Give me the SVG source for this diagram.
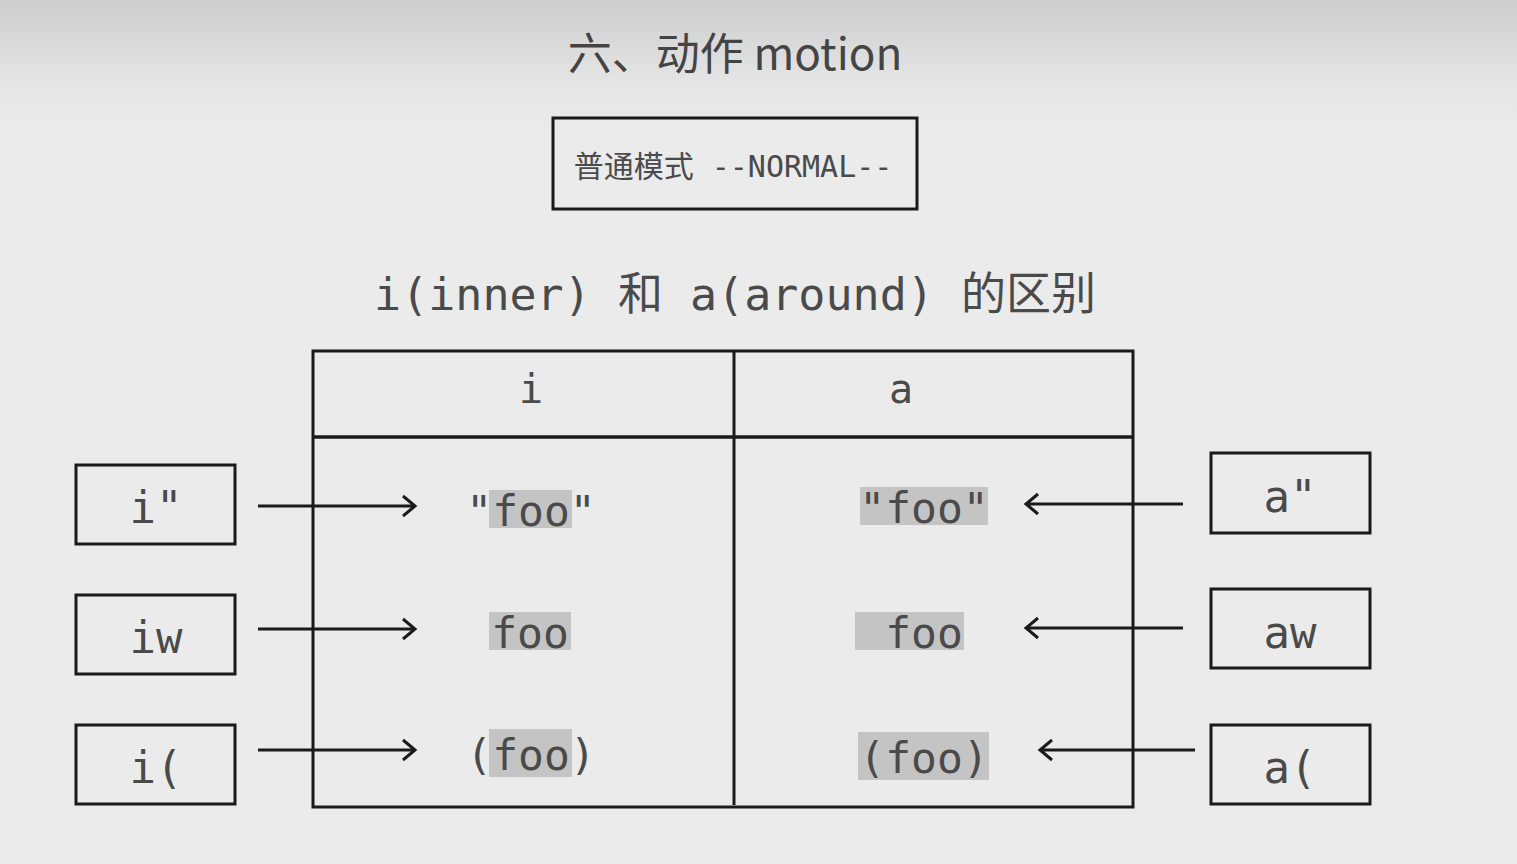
<svg xmlns="http://www.w3.org/2000/svg" width="1517" height="864" viewBox="0 0 1517 864">
  <defs>
    <linearGradient id="bg" x1="0" y1="0" x2="0" y2="1">
      <stop offset="0" stop-color="#cdcdcd"/>
      <stop offset="0.1" stop-color="#e6e6e6"/>
      <stop offset="0.16" stop-color="#ebebeb"/>
      <stop offset="1" stop-color="#ebebeb"/>
    </linearGradient>
    <marker id="chev" markerWidth="20" markerHeight="26" refX="16" refY="13" orient="auto" markerUnits="userSpaceOnUse">
      <path d="M4,3 L16,13 L4,23" fill="none" stroke="#1a1a1a" stroke-width="3" stroke-linejoin="miter"/>
    </marker>
    <style>
      .box { fill: none; stroke: #1a1a1a; stroke-width: 3; }
      .mono { font-family: "DejaVu Sans Mono", "Liberation Mono", "Noto Sans CJK SC", monospace; fill: #4a4a4a; }
      .sans { font-family: "Noto Sans CJK SC", "Noto Sans", sans-serif; fill: #444444; }
      .lbl { font-size: 44px; text-anchor: middle; }
      .cell { font-size: 43px; text-anchor: middle; }
      .hl { fill: #c4c4c4; }
      .conn { stroke: #1a1a1a; stroke-width: 3; fill: none; marker-end: url(#chev); }
    </style>
  </defs>

  <rect x="0" y="0" width="1517" height="864" fill="url(#bg)"/>

  <g id="title">
    <text x="735" y="70" class="sans" font-size="44" text-anchor="middle">六、动作 motion</text>
  </g>

  <g id="mode">
    <rect x="553" y="118" width="364" height="91" class="box"/>
    <text x="733" y="177" class="mono" font-size="30" text-anchor="middle"><tspan font-family="Noto Sans CJK SC, sans-serif">普通模式</tspan> --NORMAL--</text>
  </g>

  <g id="subtitle">
    <text x="735" y="310" class="mono" font-size="45" text-anchor="middle">i(inner) 和 a(around) 的区别</text>
  </g>

  <g id="table">
    <rect x="313" y="351" width="820" height="456" class="box"/>
    <line x1="313" y1="437" x2="1133" y2="437" stroke="#1a1a1a" stroke-width="3.5"/>
    <line x1="734" y1="351" x2="734" y2="805" stroke="#1a1a1a" stroke-width="3"/>
    <text x="531" y="403" class="mono" font-size="40" text-anchor="middle">i</text>
    <text x="901" y="403" class="mono" font-size="40" text-anchor="middle">a</text>
  </g>

  <g id="cell-i-quote">
    <rect x="489" y="490" width="83" height="38" class="hl"/>
    <text x="531" y="526" class="mono cell">"foo"</text>
  </g>
  <g id="cell-a-quote">
    <rect x="860" y="487" width="128" height="38" class="hl"/>
    <text x="924" y="523" class="mono cell">"foo"</text>
  </g>
  <g id="cell-i-word">
    <rect x="489" y="612" width="82" height="38" class="hl"/>
    <text x="530" y="648" class="mono cell">foo</text>
  </g>
  <g id="cell-a-word">
    <rect x="855" y="612" width="109" height="38" class="hl"/>
    <text x="924" y="648" class="mono cell">foo</text>
  </g>
  <g id="cell-i-paren">
    <rect x="489" y="729" width="83" height="48" class="hl"/>
    <text x="531" y="770" class="mono cell">(foo)</text>
  </g>
  <g id="cell-a-paren">
    <rect x="858" y="732" width="131" height="48" class="hl"/>
    <text x="924" y="773" class="mono cell">(foo)</text>
  </g>

  <g id="node-iquote">
    <rect x="76" y="465" width="159" height="79" class="box"/>
    <text x="156" y="523" class="mono lbl">i"</text>
  </g>
  <g id="node-iw">
    <rect x="76" y="595" width="159" height="79" class="box"/>
    <text x="156" y="653" class="mono lbl">iw</text>
  </g>
  <g id="node-iparen">
    <rect x="76" y="725" width="159" height="79" class="box"/>
    <text x="156" y="783" class="mono lbl">i(</text>
  </g>
  <g id="node-aquote">
    <rect x="1211" y="453" width="159" height="80" class="box"/>
    <text x="1290" y="512" class="mono lbl">a"</text>
  </g>
  <g id="node-aw">
    <rect x="1211" y="589" width="159" height="79" class="box"/>
    <text x="1290" y="648" class="mono lbl">aw</text>
  </g>
  <g id="node-aparen">
    <rect x="1211" y="725" width="159" height="79" class="box"/>
    <text x="1290" y="783" class="mono lbl">a(</text>
  </g>

  <g id="connectors">
    <line x1="258" y1="506" x2="415" y2="506" class="conn"/>
    <line x1="258" y1="629" x2="415" y2="629" class="conn"/>
    <line x1="258" y1="750" x2="415" y2="750" class="conn"/>
    <line x1="1183" y1="504" x2="1026" y2="504" class="conn"/>
    <line x1="1183" y1="628" x2="1026" y2="628" class="conn"/>
    <line x1="1195" y1="750" x2="1040" y2="750" class="conn"/>
  </g>
</svg>
